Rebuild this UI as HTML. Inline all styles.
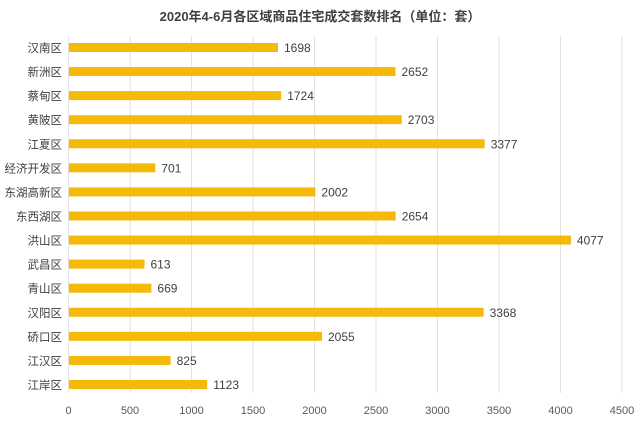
<!DOCTYPE html>
<html><head><meta charset="utf-8"><style>
html,body{margin:0;padding:0;background:#fff;}
svg{display:block;}
text{font-family:"Liberation Sans","Noto Sans CJK SC",sans-serif;}
</style></head><body>
<svg width="640" height="424" viewBox="0 0 640 424">
<rect width="640" height="424" fill="#fff"/>
<text x="320" y="21" text-anchor="middle" font-size="13" font-weight="bold" fill="#404040">2020年4-6月各区域商品住宅成交套数排名（单位：套）</text>
<g stroke="#e2e2e2" stroke-width="1">
<line x1="68.5" y1="36" x2="68.5" y2="393"/>
<line x1="130" y1="36" x2="130" y2="393"/>
<line x1="191.5" y1="36" x2="191.5" y2="393"/>
<line x1="253" y1="36" x2="253" y2="393"/>
<line x1="314.5" y1="36" x2="314.5" y2="393"/>
<line x1="376" y1="36" x2="376" y2="393"/>
<line x1="437.5" y1="36" x2="437.5" y2="393"/>
<line x1="499" y1="36" x2="499" y2="393"/>
<line x1="560.5" y1="36" x2="560.5" y2="393"/>
<line x1="622" y1="36" x2="622" y2="393"/>
</g>
<g font-size="11" fill="#595959" text-anchor="middle">
<text x="68.5" y="414">0</text><text x="130" y="414">500</text><text x="191.5" y="414">1000</text><text x="253" y="414">1500</text><text x="314.5" y="414">2000</text><text x="376" y="414">2500</text><text x="437.5" y="414">3000</text><text x="499" y="414">3500</text><text x="560.5" y="414">4000</text><text x="622" y="414">4500</text>
</g>
<g fill="#F5B90A">
<rect x="69" y="43" width="209.0" height="9"/>
<rect x="69" y="67.07" width="326.5" height="9"/>
<rect x="69" y="91.14" width="212.2" height="9"/>
<rect x="69" y="115.21" width="332.7" height="9"/>
<rect x="69" y="139.28" width="415.7" height="9"/>
<rect x="69" y="163.35" width="86.3" height="9"/>
<rect x="69" y="187.42" width="246.4" height="9"/>
<rect x="69" y="211.49" width="326.7" height="9"/>
<rect x="69" y="235.56" width="501.9" height="9"/>
<rect x="69" y="259.63" width="75.5" height="9"/>
<rect x="69" y="283.7" width="82.4" height="9"/>
<rect x="69" y="307.77" width="414.6" height="9"/>
<rect x="69" y="331.84" width="253.0" height="9"/>
<rect x="69" y="355.91" width="101.6" height="9"/>
<rect x="69" y="379.98" width="138.2" height="9"/>
</g>
<g font-size="11.5" fill="#404040" text-anchor="end">
<text x="62" y="52">汉南区</text>
<text x="62" y="76.07">新洲区</text>
<text x="62" y="100.14">蔡甸区</text>
<text x="62" y="124.21">黄陂区</text>
<text x="62" y="148.28">江夏区</text>
<text x="62" y="172.35">经济开发区</text>
<text x="62" y="196.42">东湖高新区</text>
<text x="62" y="220.49">东西湖区</text>
<text x="62" y="244.56">洪山区</text>
<text x="62" y="268.63">武昌区</text>
<text x="62" y="292.7">青山区</text>
<text x="62" y="316.77">汉阳区</text>
<text x="62" y="340.84">硚口区</text>
<text x="62" y="364.91">江汉区</text>
<text x="62" y="388.98">江岸区</text>
</g>
<g font-size="12" fill="#404040">
<text x="284" y="52">1698</text>
<text x="401.5" y="76.07">2652</text>
<text x="287.2" y="100.14">1724</text>
<text x="407.7" y="124.21">2703</text>
<text x="490.7" y="148.28">3377</text>
<text x="161.3" y="172.35">701</text>
<text x="321.4" y="196.42">2002</text>
<text x="401.7" y="220.49">2654</text>
<text x="576.9" y="244.56">4077</text>
<text x="150.5" y="268.63">613</text>
<text x="157.4" y="292.7">669</text>
<text x="489.6" y="316.77">3368</text>
<text x="328" y="340.84">2055</text>
<text x="176.6" y="364.91">825</text>
<text x="213.2" y="388.98">1123</text>
</g>
</svg>
</body></html>
